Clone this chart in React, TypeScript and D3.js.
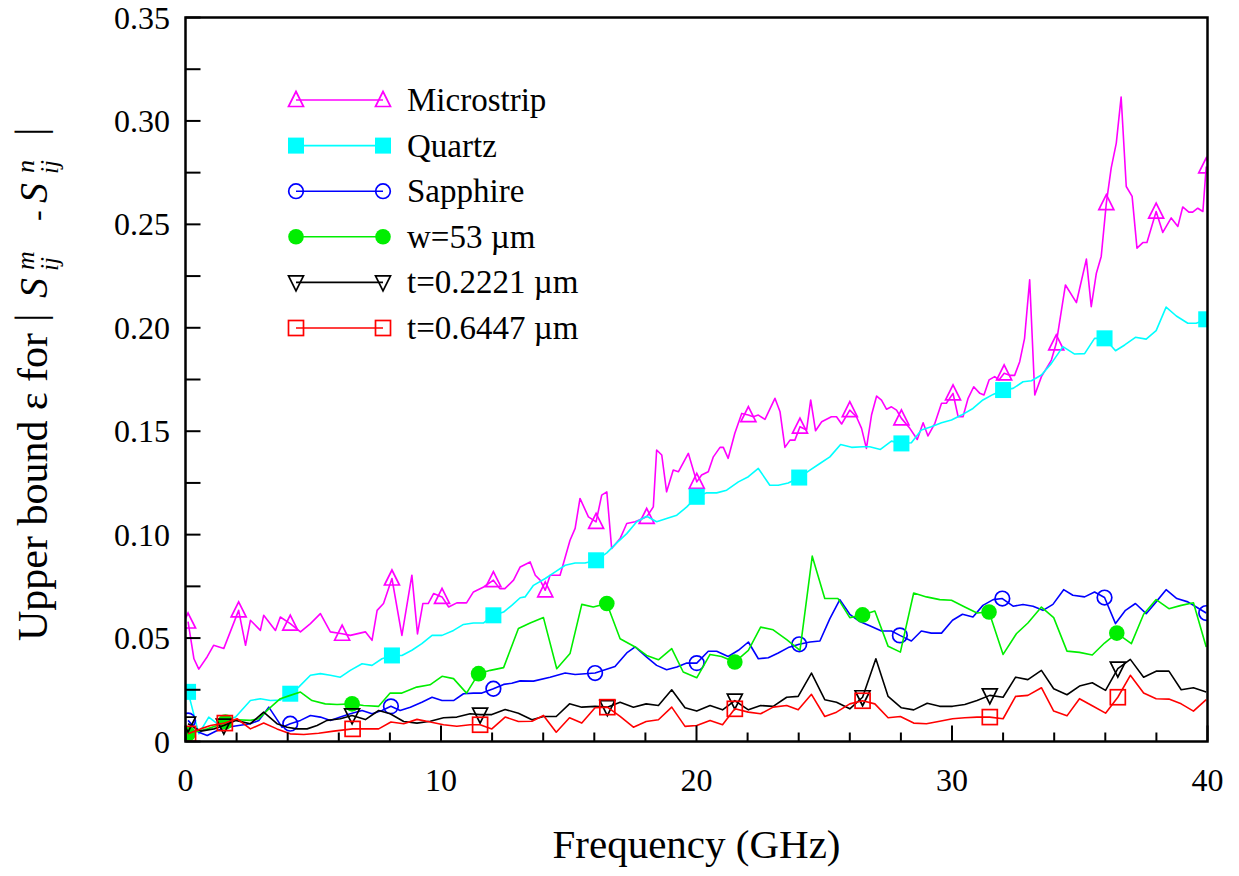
import * as d3 from 'd3'

// axis ticks
const freqMajor = [0, 10, 20, 30, 40]
const freqMinor = [2, 4, 6, 8, 12, 14, 16, 18, 22, 24, 26, 28, 32, 34, 36, 38]
const epsMajor = [0, 0.05, 0.1, 0.15, 0.2, 0.25, 0.3, 0.35]
const epsLabels = ['0', '0.05', '0.10', '0.15', '0.20', '0.25', '0.30', '0.35']
const epsMinor = [0.025, 0.075, 0.125, 0.175, 0.225, 0.275, 0.325]

// [frequency GHz, upper bound]
const microstrip = [[0.1,0.058],[0.33,0.040],[0.52,0.035],[0.85,0.041],[1.1,0.0465],[1.5,0.045],[2.08,0.0634],[2.35,0.0465],[2.54,0.0586],[2.93,0.0537],[3.06,0.061],[3.52,0.0537],[3.71,0.0602],[4.1,0.057],[4.5,0.053],[4.89,0.057],[5.28,0.0618],[5.67,0.053],[6.13,0.0521],[6.45,0.0513],[7.04,0.053],[7.3,0.0489],[7.5,0.0634],[7.75,0.0667],[8.08,0.0788],[8.47,0.0513],[8.86,0.0804],[9.08,0.052],[9.29,0.0667],[9.5,0.0667],[9.71,0.0715],[10.04,0.0699],[10.3,0.065],[10.62,0.067],[11.0,0.067],[11.27,0.0723],[11.67,0.0747],[12.05,0.078],[12.3,0.0739],[12.5,0.0739],[12.84,0.078],[13.1,0.0844],[13.49,0.0868],[13.69,0.0804],[13.88,0.078],[14.08,0.0731],[14.27,0.0804],[14.66,0.0804],[15.05,0.0973],[15.25,0.103],[15.44,0.1175],[15.77,0.1086],[16.07,0.1062],[16.29,0.1191],[16.49,0.1207],[16.68,0.0933],[17.01,0.0981],[17.27,0.1054],[17.6,0.1062],[18.05,0.1086],[18.31,0.1134],[18.44,0.1409],[18.64,0.1385],[18.83,0.1207],[19.09,0.1312],[19.29,0.1304],[19.68,0.1393],[20.01,0.1255],[20.2,0.1288],[20.46,0.1304],[20.66,0.1376],[20.92,0.1422],[21.05,0.1422],[21.24,0.1369],[21.5,0.149],[21.77,0.1586],[22.03,0.1578],[22.22,0.157],[22.42,0.1578],[22.68,0.1557],[23.07,0.1659],[23.27,0.1594],[23.46,0.1422],[23.66,0.1457],[23.85,0.1457],[24.05,0.1522],[24.31,0.1506],[24.47,0.1651],[24.66,0.1502],[24.9,0.1546],[25.28,0.157],[25.48,0.157],[25.68,0.1535],[26.0,0.1602],[26.26,0.157],[26.46,0.1514],[26.65,0.1417],[26.85,0.1578],[27.05,0.167],[27.24,0.165],[27.44,0.1606],[27.63,0.1618],[27.83,0.1602],[28.02,0.1562],[28.35,0.1514],[28.64,0.146],[28.87,0.1541],[29.06,0.1477],[29.33,0.1538],[29.59,0.1635],[29.78,0.1635],[30.04,0.1683],[30.24,0.157],[30.43,0.157],[30.63,0.1659],[30.85,0.1715],[31.09,0.1683],[31.25,0.1675],[31.45,0.1748],[31.67,0.1764],[31.84,0.1748],[32.04,0.178],[32.26,0.177],[32.45,0.177],[32.65,0.1836],[32.84,0.1949],[33.04,0.2232],[33.24,0.1675],[33.5,0.1764],[33.89,0.1844],[34.08,0.1925],[34.44,0.2207],[34.87,0.2122],[35.26,0.2332],[35.45,0.2102],[35.65,0.2264],[35.84,0.2345],[36.04,0.2603],[36.23,0.2772],[36.43,0.2893],[36.62,0.3116],[36.82,0.2683],[37.05,0.2635],[37.24,0.2385],[37.47,0.2412],[37.63,0.2412],[37.99,0.2562],[38.25,0.2461],[38.58,0.2531],[38.84,0.249],[39.03,0.2584],[39.27,0.2559],[39.42,0.2559],[39.62,0.2578],[39.82,0.2562],[39.95,0.278]]

const quartz = [[0.1,0.024],[0.52,0.0037],[0.91,0.0118],[1.24,0.0086],[1.56,0.0102],[1.96,0.0118],[2.54,0.0198],[2.93,0.0207],[3.32,0.0198],[3.71,0.02],[4.1,0.0231],[4.43,0.0263],[4.89,0.032],[5.28,0.0328],[5.67,0.032],[6.06,0.0311],[6.45,0.0344],[6.91,0.0376],[7.3,0.0368],[7.69,0.04],[8.08,0.0416],[8.47,0.0416],[8.86,0.0441],[9.25,0.0473],[9.65,0.0513],[10.04,0.0513],[10.49,0.0537],[10.88,0.0566],[11.27,0.0573],[11.67,0.0573],[12.05,0.061],[12.45,0.0626],[12.77,0.0658],[13.1,0.0695],[13.29,0.0699],[13.62,0.0755],[14.08,0.0788],[14.47,0.082],[14.86,0.0852],[15.25,0.0863],[15.64,0.0863],[16.07,0.0876],[16.49,0.0912],[16.88,0.096],[17.27,0.1005],[17.66,0.1062],[18.05,0.1089],[18.44,0.1062],[18.83,0.1078],[19.23,0.1094],[19.62,0.1134],[20.01,0.1183],[20.4,0.1202],[20.79,0.1202],[21.18,0.1215],[21.64,0.1255],[22.03,0.128],[22.42,0.132],[22.87,0.1239],[23.2,0.1239],[23.59,0.125],[24.02,0.1276],[24.44,0.1312],[24.83,0.1344],[25.22,0.1376],[25.64,0.1436],[26.07,0.1422],[26.52,0.1425],[26.78,0.1425],[27.2,0.1412],[27.63,0.1452],[28.02,0.1441],[28.41,0.1444],[28.8,0.1506],[29.19,0.1522],[29.59,0.1541],[29.98,0.1554],[30.37,0.1578],[30.82,0.161],[31.21,0.1651],[31.61,0.1678],[32.0,0.1699],[32.39,0.1707],[32.78,0.1739],[33.11,0.1744],[33.5,0.1772],[33.89,0.1828],[34.34,0.1909],[34.8,0.1873],[35.19,0.1875],[35.58,0.1949],[35.97,0.1949],[36.4,0.1889],[36.76,0.1917],[37.18,0.1954],[37.6,0.1945],[37.99,0.1986],[38.38,0.21],[38.78,0.2057],[39.23,0.2022],[39.56,0.2022],[39.95,0.2041]]

const sapphire = [[0.1,0.0102],[0.52,0.0045],[0.85,0.0029],[1.24,0.0053],[1.63,0.0069],[2.08,0.0077],[2.54,0.0086],[2.87,0.0102],[3.26,0.0166],[3.52,0.0118],[3.78,0.0069],[4.1,0.0086],[4.5,0.0102],[4.89,0.0126],[5.28,0.0118],[5.67,0.0102],[6.06,0.0118],[6.45,0.0134],[6.91,0.015],[7.3,0.0134],[7.69,0.015],[8.04,0.017],[8.4,0.015],[8.8,0.0166],[9.25,0.019],[9.65,0.0214],[10.04,0.0198],[10.49,0.0198],[10.88,0.0231],[11.27,0.0234],[11.6,0.0234],[12.05,0.0255],[12.45,0.0276],[12.77,0.0282],[13.1,0.0293],[13.62,0.0292],[14.27,0.0311],[14.86,0.0331],[15.25,0.0324],[16.03,0.0331],[16.42,0.0347],[16.81,0.0363],[17.27,0.0428],[17.6,0.0457],[18.05,0.0408],[18.44,0.0368],[18.83,0.0347],[19.23,0.036],[19.62,0.0379],[20.01,0.0379],[20.46,0.0436],[20.79,0.0436],[21.24,0.0411],[21.64,0.0441],[22.03,0.0481],[22.42,0.04],[22.81,0.0405],[23.2,0.0428],[23.59,0.0454],[24.02,0.047],[24.44,0.0481],[24.83,0.0486],[25.22,0.0594],[25.61,0.0686],[26.0,0.0615],[26.39,0.058],[26.78,0.056],[27.24,0.0534],[27.63,0.0534],[27.96,0.0513],[28.41,0.0486],[28.8,0.0534],[29.19,0.0524],[29.59,0.0524],[30.02,0.0586],[30.41,0.0615],[30.82,0.0602],[31.21,0.0658],[31.61,0.0686],[31.97,0.0691],[32.39,0.0654],[32.78,0.0662],[33.17,0.0654],[33.56,0.0634],[33.95,0.0663],[34.37,0.0734],[34.73,0.0707],[35.19,0.0699],[35.58,0.0723],[35.97,0.0696],[36.4,0.057],[36.79,0.0634],[37.18,0.0667],[37.6,0.0618],[37.99,0.0675],[38.38,0.0734],[38.8,0.0691],[39.23,0.0675],[39.56,0.065],[39.95,0.0621]]

const width53 = [[0.1,0.0037],[0.5,0.005],[0.85,0.0061],[1.24,0.0077],[1.56,0.0094],[2.02,0.0105],[2.54,0.0102],[2.87,0.011],[3.26,0.0158],[3.71,0.0207],[4.1,0.0223],[4.5,0.0239],[4.95,0.0198],[5.47,0.0182],[5.93,0.0179],[6.52,0.0182],[6.97,0.0174],[7.56,0.017],[8.01,0.0234],[8.47,0.0234],[9.05,0.0263],[9.57,0.0274],[10.04,0.0315],[10.49,0.0304],[11.0,0.0234],[11.47,0.0328],[11.93,0.0344],[12.45,0.0357],[13.03,0.0546],[13.49,0.0573],[14.01,0.0599],[14.53,0.0352],[15.05,0.0425],[15.51,0.0663],[15.96,0.065],[16.49,0.0667],[17.01,0.0497],[17.6,0.0457],[18.05,0.0416],[18.51,0.0395],[19.03,0.0449],[19.48,0.0336],[20.01,0.0308],[20.53,0.0421],[20.98,0.0411],[21.5,0.0384],[22.03,0.0441],[22.51,0.0553],[23.0,0.054],[23.53,0.0492],[24.05,0.0441],[24.53,0.0896],[25.02,0.0691],[25.54,0.0691],[26.0,0.0599],[26.5,0.0612],[26.98,0.0631],[27.5,0.046],[27.98,0.0432],[28.5,0.0718],[29.0,0.0699],[29.52,0.0686],[29.98,0.0683],[30.5,0.065],[30.98,0.0621],[31.45,0.0626],[32.0,0.0421],[32.52,0.0521],[32.97,0.0573],[33.5,0.065],[33.98,0.0599],[34.5,0.0437],[34.99,0.0431],[35.49,0.0418],[35.97,0.0476],[36.45,0.0524],[37.02,0.0473],[37.5,0.0615],[37.99,0.0686],[38.49,0.0642],[38.97,0.0658],[39.45,0.0671],[39.95,0.0457]]

const thick2221 = [[0.1,0.0086],[0.6,0.005],[1.11,0.0061],[1.5,0.0077],[1.96,0.0102],[2.54,0.0086],[3.06,0.0142],[3.58,0.0086],[3.98,0.0069],[4.37,0.0061],[4.76,0.0061],[5.15,0.0077],[5.54,0.0102],[6.06,0.011],[6.52,0.0126],[7.04,0.0106],[7.56,0.015],[8.01,0.0134],[8.54,0.0097],[9.06,0.0089],[9.58,0.0098],[10.1,0.0115],[10.62,0.0118],[11.14,0.0134],[11.53,0.013],[11.99,0.013],[12.51,0.0155],[13.03,0.0137],[13.56,0.0105],[14.01,0.0121],[14.51,0.0121],[15.03,0.0182],[15.51,0.0166],[16.03,0.017],[16.51,0.0166],[17.01,0.019],[17.53,0.0166],[18.03,0.0182],[18.51,0.0174],[19.03,0.025],[19.55,0.0163],[20.01,0.0147],[20.53,0.0174],[21.02,0.0153],[21.5,0.0198],[22.03,0.0153],[22.51,0.0174],[23.0,0.017],[23.53,0.0214],[23.98,0.0218],[24.5,0.0331],[25.02,0.0202],[25.48,0.019],[26.0,0.0158],[26.5,0.0214],[27.02,0.04],[27.5,0.0218],[28.02,0.0163],[28.5,0.0153],[29.03,0.0185],[29.52,0.017],[30.02,0.017],[30.5,0.0179],[30.98,0.0198],[31.48,0.0223],[32.0,0.0214],[32.49,0.0311],[32.97,0.0299],[33.5,0.0344],[33.98,0.0255],[34.5,0.0226],[34.99,0.0268],[35.49,0.0284],[36.01,0.0247],[36.49,0.0352],[36.98,0.0397],[37.5,0.0311],[37.99,0.034],[38.49,0.034],[38.97,0.025],[39.45,0.026],[39.95,0.0239]]

const thick6447 = [[0.1,0.0037],[0.59,0.0061],[0.98,0.0077],[1.54,0.0089],[2.02,0.011],[2.54,0.0061],[3.06,0.0089],[3.58,0.0061],[4.1,0.0037],[4.63,0.0034],[5.21,0.004],[5.8,0.005],[6.54,0.0061],[7.04,0.0061],[7.56,0.0061],[8.04,0.0094],[8.54,0.0086],[9.06,0.0107],[9.58,0.0094],[10.1,0.0081],[10.62,0.0074],[11.14,0.0081],[11.53,0.0081],[11.99,0.0061],[12.51,0.0118],[13.03,0.0097],[13.56,0.0098],[14.01,0.0126],[14.51,0.0045],[15.03,0.0115],[15.51,0.0089],[16.03,0.0163],[16.51,0.0166],[17.01,0.0121],[17.53,0.0069],[18.03,0.0097],[18.51,0.0105],[19.03,0.0166],[19.55,0.0073],[20.01,0.0077],[20.53,0.0102],[21.02,0.0081],[21.5,0.0158],[22.03,0.0142],[22.51,0.0134],[23.0,0.0166],[23.53,0.0174],[23.98,0.0153],[24.5,0.0228],[25.02,0.0121],[25.48,0.0142],[26.0,0.0182],[26.5,0.0197],[26.98,0.0182],[27.5,0.0115],[27.98,0.0121],[28.5,0.0089],[29.0,0.0086],[29.52,0.0098],[30.02,0.011],[30.5,0.0115],[30.98,0.0118],[31.48,0.0118],[32.0,0.011],[32.49,0.0218],[32.97,0.0223],[33.5,0.026],[33.98,0.0147],[34.5,0.0124],[34.99,0.0207],[35.49,0.0173],[36.01,0.0137],[36.49,0.0214],[36.98,0.032],[37.5,0.0234],[37.99,0.0207],[38.49,0.0205],[38.97,0.0182],[39.45,0.0147],[39.95,0.0202]]

// frequencies carrying a symbol
const marksEvery2 = [0.1, 2, 4, 6, 8, 10, 12, 14, 16, 18, 20, 22, 24, 26, 28, 30, 32, 34, 36, 38, 40]
const marksEvery4 = [0.1, 4, 8, 12, 16, 20, 24, 28, 32, 36, 40]
const marksEvery5 = [0.1, 1.5, 6.5, 11.5, 16.5, 21.5, 26.5, 31.5, 36.5]

const series = [
  { label: 'Microstrip', color: '#ff00ff', symbol: 'triUp', data: microstrip, marks: marksEvery2 },
  { label: 'Quartz', color: '#00ffff', symbol: 'squareFill', data: quartz, marks: marksEvery4 },
  { label: 'Sapphire', color: '#0000ff', symbol: 'circle', data: sapphire, marks: marksEvery4 },
  { label: 'w=53 \u00b5m', color: '#00ee00', symbol: 'circleFill', data: width53, marks: marksEvery5 },
  { label: 't=0.2221 \u00b5m', color: '#000000', symbol: 'triDown', data: thick2221, marks: marksEvery5 },
  { label: 't=0.6447 \u00b5m', color: '#ff0000', symbol: 'square', data: thick6447, marks: marksEvery5 },
]

const W = 1239
const H = 876
const plot = { left: 185.5, right: 1207.5, top: 17.5, bottom: 741.5 }
const serif = '"Liberation Serif", "Times New Roman", serif'

function Symbol({ kind, x, y, color }) {
  const sw = 1.7
  if (kind === 'triUp')
    return <path d={`M${x},${y - 8.5}L${x + 7.5},${y + 6.5}L${x - 7.5},${y + 6.5}Z`} fill="none" stroke={color} strokeWidth={sw} />
  if (kind === 'triDown')
    return <path d={`M${x - 7.5},${y - 6.5}L${x + 7.5},${y - 6.5}L${x},${y + 8.5}Z`} fill="none" stroke={color} strokeWidth={sw} />
  if (kind === 'squareFill')
    return <rect x={x - 8} y={y - 8} width={16} height={16} fill={color} />
  if (kind === 'square')
    return <rect x={x - 7.5} y={y - 7.5} width={15} height={15} fill="none" stroke={color} strokeWidth={sw} />
  if (kind === 'circleFill')
    return <circle cx={x} cy={y} r={7.8} fill={color} />
  return <circle cx={x} cy={y} r={7.3} fill="none" stroke={color} strokeWidth={sw} />
}

export default function App() {
  const x = d3.scaleLinear().domain([0, 40]).range([plot.left, plot.right])
  const y = d3.scaleLinear().domain([0, 0.35]).range([plot.bottom, plot.top])
  const line = d3.line().x(d => x(d[0])).y(d => y(d[1]))

  const nearest = (data, f) => data[d3.minIndex(data, d => Math.abs(d[0] - f))]

  const legendX1 = 296
  const legendX2 = 383
  const legendY0 = 100
  const legendStep = 45.6

  // y-axis title pieces, placed along the rotated baseline
  const titleBase = 47
  const titleStart = 641
  const rot = (bx, off) => `translate(${bx},${titleStart - off}) rotate(-90)`

  return (
    <svg width={W} height={H} style={{ position: 'absolute', left: 0, top: 0, display: 'block', background: '#fff' }}>
      <defs>
        <clipPath id="plot-clip">
          <rect x={plot.left} y={plot.top} width={plot.right - plot.left} height={plot.bottom - plot.top} />
        </clipPath>
      </defs>

      <g clipPath="url(#plot-clip)">
        {series.map(s => (
          <g key={s.label}>
            <path d={line(s.data)} fill="none" stroke={s.color} strokeWidth={1.6} strokeLinejoin="round" />
            {s.marks.map(f => {
              const p = nearest(s.data, f)
              return <Symbol key={f} kind={s.symbol} x={x(p[0])} y={y(p[1])} color={s.color} />
            })}
          </g>
        ))}
      </g>

      {/* frame and inward ticks */}
      <rect x={plot.left} y={plot.top} width={plot.right - plot.left} height={plot.bottom - plot.top} fill="none" stroke="#000" strokeWidth={2.5} />
      {freqMajor.map(t => (
        <line key={'xM' + t} x1={x(t)} x2={x(t)} y1={plot.bottom} y2={plot.bottom - 16} stroke="#000" strokeWidth={2} />
      ))}
      {freqMinor.map(t => (
        <line key={'xm' + t} x1={x(t)} x2={x(t)} y1={plot.bottom} y2={plot.bottom - 9} stroke="#000" strokeWidth={2} />
      ))}
      {[...epsMajor, ...epsMinor].map(t => (
        <line key={'y' + t} x1={plot.left} x2={plot.left + 15} y1={y(t)} y2={y(t)} stroke="#000" strokeWidth={2} />
      ))}

      {/* tick labels */}
      <g fontFamily={serif} fontSize={32} fill="#000">
        {freqMajor.map(t => (
          <text key={'xl' + t} x={x(t)} y={791} textAnchor="middle">{t}</text>
        ))}
        {epsMajor.map((t, i) => (
          <text key={'yl' + t} x={170} y={y(t) + 11} textAnchor="end">{epsLabels[i]}</text>
        ))}
      </g>

      {/* axis titles */}
      <text x={(plot.left + plot.right) / 2} y={858} textAnchor="middle" fontFamily={serif} fontSize={41}>Frequency (GHz)</text>
      <g fontFamily={serif} fill="#000">
        <text transform={rot(titleBase, 0)} fontSize={42}>Upper bound ε for</text>
        <text transform={rot(titleBase - 3, 319)} fontSize={42}>|</text>
        <text transform={rot(titleBase, 343)} fontSize={40} fontStyle="italic">S</text>
        <text transform={rot(titleBase - 13, 371)} fontSize={26} fontStyle="italic">m</text>
        <text transform={rot(titleBase + 11, 370)} fontSize={25} fontStyle="italic">ij</text>
        <text transform={rot(titleBase, 420)} fontSize={32}>-</text>
        <text transform={rot(titleBase, 438)} fontSize={40} fontStyle="italic">S</text>
        <text transform={rot(titleBase - 13, 468)} fontSize={26} fontStyle="italic">n</text>
        <text transform={rot(titleBase + 11, 467)} fontSize={25} fontStyle="italic">ij</text>
        <text transform={rot(titleBase - 3, 505)} fontSize={42}>|</text>
      </g>

      {/* legend */}
      <g fontFamily={serif} fontSize={33}>
        {series.map((s, i) => {
          const ly = legendY0 + i * legendStep
          return (
            <g key={'lg' + s.label}>
              <line x1={legendX1} x2={legendX2} y1={ly} y2={ly} stroke={s.color} strokeWidth={1.6} />
              <Symbol kind={s.symbol} x={legendX1} y={ly} color={s.color} />
              <Symbol kind={s.symbol} x={legendX2} y={ly} color={s.color} />
              <text x={407} y={ly + 11}>{s.label}</text>
            </g>
          )
        })}
      </g>
    </svg>
  )
}
